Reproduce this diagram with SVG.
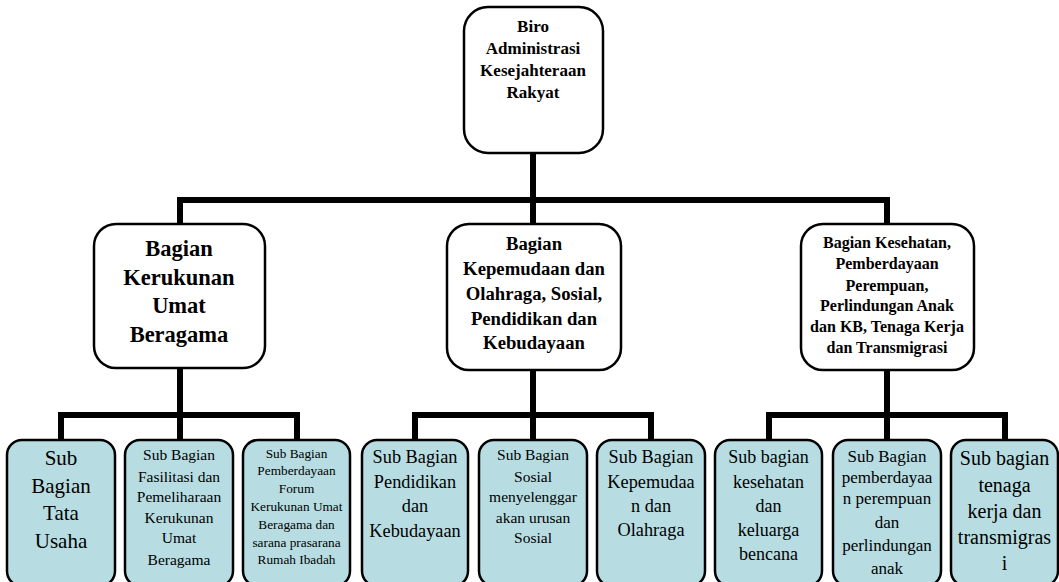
<svg xmlns="http://www.w3.org/2000/svg" width="1059" height="582" viewBox="0 0 1059 582">
<style>
.box{fill:#ffffff;stroke:#000;stroke-width:2.5}
.sub{fill:#b7dde2;stroke:#000;stroke-width:2.5}
.ln{fill:none;stroke:#000;stroke-width:6;stroke-linejoin:miter;stroke-linecap:butt}
text{fill:#000;text-anchor:middle}
.b{font-weight:bold}
</style>
<rect width="1059" height="582" fill="#ffffff"/>
<g id="connectors">
<path class="ln" d="M533,153 V224"/>
<path class="ln" d="M180,226 V200 H887 V226"/>
<path class="ln" d="M180,368 V441"/>
<path class="ln" d="M61,441 V415 H297 V441"/>
<path class="ln" d="M533,370 V441"/>
<path class="ln" d="M415,441 V415 H651 V441"/>
<path class="ln" d="M887,370 V441"/>
<path class="ln" d="M769,441 V415 H1005 V441"/>
</g>
<g font-family="'Liberation Serif', 'Times New Roman', Times, serif">
<g id="biro">
<rect class="box" x="464" y="7" width="139" height="146" rx="24"/>
<text class="b" font-size="17" x="533"><tspan x="533" y="32">Biro</tspan><tspan x="533" y="54">Administrasi</tspan><tspan x="533" y="76">Kesejahteraan</tspan><tspan x="533" y="98">Rakyat</tspan></text>
</g>
<g id="bagian1">
<rect class="box" x="94" y="224" width="171" height="144" rx="22"/>
<text class="b" font-size="22.5"><tspan x="179" y="256">Bagian</tspan><tspan x="179" y="285">Kerukunan</tspan><tspan x="179" y="313">Umat</tspan><tspan x="179" y="342">Beragama</tspan></text>
</g>
<g id="bagian2">
<rect class="box" x="447" y="224" width="174" height="146" rx="22"/>
<text class="b" font-size="18.7"><tspan x="534" y="250">Bagian</tspan><tspan x="534" y="275">Kepemudaan dan</tspan><tspan x="534" y="300">Olahraga, Sosial,</tspan><tspan x="534" y="325">Pendidikan dan</tspan><tspan x="534" y="349">Kebudayaan</tspan></text>
</g>
<g id="bagian3">
<rect class="box" x="801" y="224" width="173" height="146" rx="22"/>
<text class="b" font-size="16"><tspan x="887" y="248">Bagian Kesehatan,</tspan><tspan x="887" y="269">Pemberdayaan</tspan><tspan x="887" y="291">Perempuan,</tspan><tspan x="887" y="311">Perlindungan Anak</tspan><tspan x="887" y="332">dan KB, Tenaga Kerja</tspan><tspan x="887" y="353">dan Transmigrasi</tspan></text>
</g>
<g id="sub-tata-usaha">
<rect class="sub" x="7" y="440" width="108" height="146" rx="15"/>
<text font-size="21"><tspan x="61" y="465">Sub</tspan><tspan x="61" y="493">Bagian</tspan><tspan x="61" y="520">Tata</tspan><tspan x="61" y="548">Usaha</tspan></text>
</g>
<g id="sub-fasilitasi">
<rect class="sub" x="125" y="440" width="108" height="146" rx="15"/>
<text font-size="15.5"><tspan x="179" y="460">Sub Bagian</tspan><tspan x="179" y="482">Fasilitasi dan</tspan><tspan x="179" y="502">Pemeliharaan</tspan><tspan x="179" y="523">Kerukunan</tspan><tspan x="179" y="543">Umat</tspan><tspan x="179" y="565">Beragama</tspan></text>
</g>
<g id="sub-pemberdayaan-forum">
<rect class="sub" x="243" y="440" width="107" height="146" rx="15"/>
<text font-size="13.3"><tspan x="296.5" y="458">Sub Bagian</tspan><tspan x="296.5" y="475">Pemberdayaan</tspan><tspan x="296.5" y="493">Forum</tspan><tspan x="296.5" y="511">Kerukunan Umat</tspan><tspan x="296.5" y="529">Beragama dan</tspan><tspan x="296.5" y="547">sarana prasarana</tspan><tspan x="296.5" y="564">Rumah Ibadah</tspan></text>
</g>
<g id="sub-pendidikan">
<rect class="sub" x="362" y="440" width="106" height="146" rx="15"/>
<text font-size="18.3"><tspan x="415" y="463">Sub Bagian</tspan><tspan x="415" y="488">Pendidikan</tspan><tspan x="415" y="512">dan</tspan><tspan x="415" y="537">Kebudayaan</tspan></text>
</g>
<g id="sub-sosial">
<rect class="sub" x="479" y="440" width="108" height="146" rx="15"/>
<text font-size="15.5"><tspan x="533" y="460">Sub Bagian</tspan><tspan x="533" y="482">Sosial</tspan><tspan x="533" y="502">menyelenggar</tspan><tspan x="533" y="523">akan urusan</tspan><tspan x="533" y="543">Sosial</tspan></text>
</g>
<g id="sub-kepemudaan">
<rect class="sub" x="597" y="440" width="108" height="146" rx="15"/>
<text font-size="18.3"><tspan x="651" y="463">Sub Bagian</tspan><tspan x="651" y="488">Kepemudaa</tspan><tspan x="651" y="512">n dan</tspan><tspan x="651" y="536">Olahraga</tspan></text>
</g>
<g id="sub-kesehatan">
<rect class="sub" x="715" y="440" width="107" height="146" rx="15"/>
<text font-size="18"><tspan x="768.5" y="463">Sub bagian</tspan><tspan x="768.5" y="488">kesehatan</tspan><tspan x="768.5" y="512">dan</tspan><tspan x="768.5" y="536">keluarga</tspan><tspan x="768.5" y="560">bencana</tspan></text>
</g>
<g id="sub-pemberdayaan-perempuan">
<rect class="sub" x="833" y="440" width="108" height="146" rx="15"/>
<text font-size="17"><tspan x="887" y="462">Sub Bagian</tspan><tspan x="887" y="483">pemberdayaa</tspan><tspan x="887" y="504">n perempuan</tspan><tspan x="887" y="528">dan</tspan><tspan x="887" y="551">perlindungan</tspan><tspan x="887" y="574">anak</tspan></text>
</g>
<g id="sub-tenaga-kerja">
<rect class="sub" x="951" y="440" width="107" height="146" rx="15"/>
<text font-size="20"><tspan x="1004.5" y="465">Sub bagian</tspan><tspan x="1004.5" y="492">tenaga</tspan><tspan x="1004.5" y="518">kerja dan</tspan><tspan x="1004.5" y="544">transmigras</tspan><tspan x="1004.5" y="570">i</tspan></text>
</g>
</g>
</svg>
